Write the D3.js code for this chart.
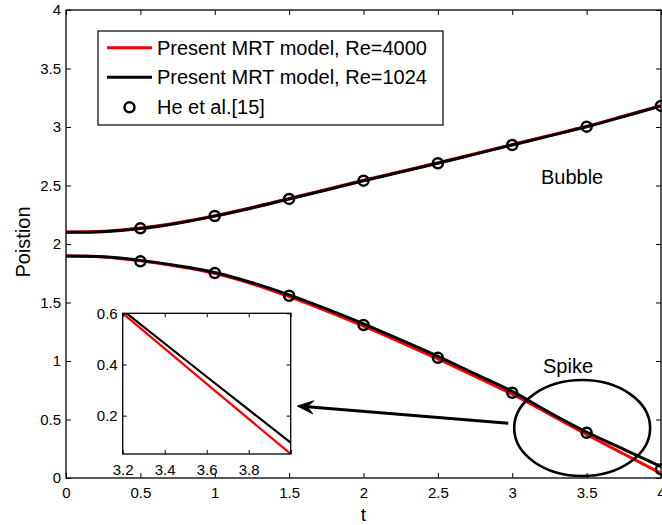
<!DOCTYPE html>
<html>
<head>
<meta charset="utf-8">
<script src="https://cdn.jsdelivr.net/npm/d3@7"></script>
<style>
  html, body { margin: 0; padding: 0; background: #fff; }
  svg { display: block; font-family: "Liberation Sans", Arial, sans-serif; }
</style>
</head>
<body>
<svg id="chart" width="662" height="525"></svg>
<script>
// ---------------- data ----------------
const tGrid = [0, 0.25, 0.5, 0.75, 1, 1.25, 1.5, 1.75, 2, 2.25, 2.5, 2.75, 3, 3.25, 3.5, 3.75, 4];
const bubbleRe4000 = [2.103, 2.108, 2.136, 2.182, 2.242, 2.312, 2.389, 2.466, 2.545, 2.619, 2.694, 2.772, 2.850, 2.928, 3.006, 3.094, 3.183];
const bubbleRe1024 = [2.100, 2.105, 2.132, 2.178, 2.238, 2.308, 2.385, 2.462, 2.541, 2.615, 2.690, 2.768, 2.846, 2.924, 3.002, 3.090, 3.180];
const spikeRe4000  = [1.897, 1.889, 1.857, 1.810, 1.750, 1.660, 1.550, 1.428, 1.298, 1.160, 1.018, 0.868, 0.716, 0.545, 0.372, 0.205, 0.040];
const spikeRe1024  = [1.897, 1.890, 1.860, 1.815, 1.757, 1.670, 1.565, 1.445, 1.318, 1.180, 1.040, 0.890, 0.740, 0.560, 0.393, 0.245, 0.097];

const heT      = [0.5, 1, 1.5, 2, 2.5, 3, 3.5, 4];
const heBubble = [2.134, 2.239, 2.385, 2.541, 2.690, 2.846, 3.003, 3.180];
const heSpike  = [1.852, 1.752, 1.558, 1.308, 1.028, 0.729, 0.387, 0.074];

const insetT      = [3.2, 3.6, 4.0];
const insetRe4000 = [0.600, 0.324, 0.050];
const insetRe1024 = [0.612, 0.352, 0.094];

const xTicks = [0, 0.5, 1, 1.5, 2, 2.5, 3, 3.5, 4];
const yTicks = [0, 0.5, 1, 1.5, 2, 2.5, 3, 3.5, 4];
const insetXTicks = [3.2, 3.4, 3.6, 3.8, 4.0];
const insetXLabels = ["3.2", "3.4", "3.6", "3.8", ""];
const insetYTicks = [0.2, 0.4, 0.6];

const legendLabels = ["Present MRT model, Re=4000", "Present MRT model, Re=1024", "He et al.[15]"];
const xLabel = "t";
const yLabel = "Poistion";
const annotations = [{text: "Bubble", t: 3.193, v: 2.513}, {text: "Spike", t: 3.207, v: 0.90}];
const ellipseSpec = {t: 3.47, v: 0.427, rt: 0.457, rv: 0.41};
const arrowSpec = {t0: 2.973, v0: 0.468, t1: 1.555, v1: 0.615};

// ---------------- layout ----------------
const svg = d3.select("#chart");
const L = 66, R = 661, T = 10, B = 478;
const x = d3.scaleLinear().domain([0, 4]).range([L, R]);
const y = d3.scaleLinear().domain([0, 4]).range([B, T]);
const RED = "#ff0000", BLK = "#000000";
const tickFont = 15;

function styleAxis(g) {
  g.selectAll("path.domain").remove();
  g.selectAll(".tick line").attr("stroke", "#000").attr("stroke-width", 1);
  g.selectAll(".tick text").attr("fill", "#000").style("font-size", tickFont + "px")
    .style("font-family", '"Liberation Sans", Arial, sans-serif');
}
const fmt = d => String(d);

// main axes
svg.append("g").attr("transform", `translate(0,${B})`)
  .call(d3.axisBottom(x).tickValues(xTicks).tickFormat(fmt).tickSize(-5).tickPadding(9)).call(styleAxis);
svg.append("g").attr("transform", `translate(0,${T})`)
  .call(d3.axisTop(x).tickValues(xTicks).tickFormat("").tickSize(-5)).call(styleAxis);
svg.append("g").attr("transform", `translate(${L},0)`)
  .call(d3.axisLeft(y).tickValues(yTicks).tickFormat(fmt).tickSize(-5).tickPadding(5)).call(styleAxis);
svg.append("g").attr("transform", `translate(${R},0)`)
  .call(d3.axisRight(y).tickValues(yTicks).tickFormat("").tickSize(-5)).call(styleAxis);
svg.append("rect").attr("x", L).attr("y", T).attr("width", R - L).attr("height", B - T)
  .attr("fill", "none").attr("stroke", "#000").attr("stroke-width", 1.3);

// axis labels
svg.append("text").attr("x", (L + R) / 2).attr("y", 521).attr("text-anchor", "middle")
  .style("font-size", "19px").text(xLabel);
svg.append("text").attr("transform", `translate(30,242) rotate(-90)`).attr("text-anchor", "middle")
  .style("font-size", "20px").text(yLabel);

// clip for main plot
svg.append("clipPath").attr("id", "mainClip").append("rect")
  .attr("x", L).attr("y", T - 5).attr("width", R - L).attr("height", B - T + 10);

const line = d3.line().x(d => x(d[0])).y(d => y(d[1])).curve(d3.curveCatmullRom);
const plot = svg.append("g").attr("clip-path", "url(#mainClip)");
function series(vals) { return tGrid.map((t, i) => [t, vals[i]]); }

[bubbleRe4000, spikeRe4000].forEach(v => plot.append("path").attr("d", line(series(v)))
  .attr("fill", "none").attr("stroke", RED).attr("stroke-width", 3));
[bubbleRe1024, spikeRe1024].forEach(v => plot.append("path").attr("d", line(series(v)))
  .attr("fill", "none").attr("stroke", BLK).attr("stroke-width", 3));

const pts = heT.map((t, i) => [t, heBubble[i]]).concat(heT.map((t, i) => [t, heSpike[i]]));
svg.append("g").selectAll("circle").data(pts).join("circle")
  .attr("cx", d => x(d[0])).attr("cy", d => y(d[1])).attr("r", 5)
  .attr("fill", "none").attr("stroke", "#000").attr("stroke-width", 2.5);

// annotations
annotations.forEach(a => svg.append("text").attr("x", x(a.t)).attr("y", y(a.v))
  .style("font-size", "20px").text(a.text));

svg.append("ellipse").attr("cx", x(ellipseSpec.t)).attr("cy", y(ellipseSpec.v))
  .attr("rx", x(ellipseSpec.rt) - x(0)).attr("ry", y(0) - y(ellipseSpec.rv))
  .attr("fill", "none").attr("stroke", "#000").attr("stroke-width", 2.6);

// arrow
{
  const x0 = x(arrowSpec.t0), y0 = y(arrowSpec.v0), x1 = x(arrowSpec.t1), y1 = y(arrowSpec.v1);
  const ang = Math.atan2(y1 - y0, x1 - x0);
  const ca = Math.cos(ang), sa = Math.sin(ang);
  const P = (back, side) => [x1 - back * ca - side * sa, y1 - back * sa + side * ca];
  const notch = P(10, 0);
  svg.append("line").attr("x1", x0).attr("y1", y0).attr("x2", notch[0]).attr("y2", notch[1])
    .attr("stroke", "#000").attr("stroke-width", 3);
  const head = [P(0, 0), P(16, 6.5), notch, P(16, -6.5)];
  svg.append("path").attr("d", "M" + head.map(p => p.join(",")).join("L") + "Z")
    .attr("fill", "#000").attr("stroke", "#000").attr("stroke-width", 1).attr("stroke-linejoin", "miter");
}

// ---------------- inset ----------------
const iL = 122.7, iR = 290.7, iT = 313.3, iB = 454;
const xi = d3.scaleLinear().domain([3.2, 4.0]).range([iL, iR]);
const yi = d3.scaleLinear().domain([0.05, 0.6]).range([iB, iT]);
svg.append("rect").attr("x", iL).attr("y", iT).attr("width", iR - iL).attr("height", iB - iT)
  .attr("fill", "#fff").attr("stroke", "none");
svg.append("clipPath").attr("id", "insetClip").append("rect")
  .attr("x", iL).attr("y", iT).attr("width", iR - iL).attr("height", iB - iT);
const iline = d3.line().x(d => xi(d[0])).y(d => yi(d[1]));
const ig = svg.append("g").attr("clip-path", "url(#insetClip)");
ig.append("path").attr("d", iline(insetT.map((t, i) => [t, insetRe4000[i]])))
  .attr("fill", "none").attr("stroke", RED).attr("stroke-width", 2.2);
ig.append("path").attr("d", iline(insetT.map((t, i) => [t, insetRe1024[i]])))
  .attr("fill", "none").attr("stroke", BLK).attr("stroke-width", 2.2);

svg.append("g").attr("transform", `translate(0,${iB})`)
  .call(d3.axisBottom(xi).tickValues(insetXTicks).tickFormat((d, i) => insetXLabels[i]).tickSize(-4).tickPadding(10)).call(styleAxis);
svg.append("g").attr("transform", `translate(0,${iT})`)
  .call(d3.axisTop(xi).tickValues(insetXTicks).tickFormat("").tickSize(-4)).call(styleAxis);
svg.append("g").attr("transform", `translate(${iL},0)`)
  .call(d3.axisLeft(yi).tickValues(insetYTicks).tickFormat(d => d.toFixed(1)).tickSize(-4).tickPadding(5)).call(styleAxis);
svg.append("g").attr("transform", `translate(${iR},0)`)
  .call(d3.axisRight(yi).tickValues(insetYTicks).tickFormat("").tickSize(-4)).call(styleAxis);
svg.append("rect").attr("x", iL).attr("y", iT).attr("width", iR - iL).attr("height", iB - iT)
  .attr("fill", "none").attr("stroke", "#000").attr("stroke-width", 1.3);

// ---------------- legend ----------------
const lg = svg.append("g");
lg.append("rect").attr("x", 98).attr("y", 31).attr("width", 345).attr("height", 94)
  .attr("fill", "#fff").attr("stroke", "#000").attr("stroke-width", 1.2);
const rowY = [47.7, 77.3, 107.3];
const swatch = [RED, BLK, null];
legendLabels.forEach((lab, i) => {
  if (swatch[i]) {
    lg.append("line").attr("x1", 107).attr("x2", 152).attr("y1", rowY[i]).attr("y2", rowY[i])
      .attr("stroke", swatch[i]).attr("stroke-width", 3);
  } else {
    lg.append("circle").attr("cx", 129.5).attr("cy", rowY[i]).attr("r", 5)
      .attr("fill", "none").attr("stroke", "#000").attr("stroke-width", 2.5);
  }
  lg.append("text").attr("x", 157).attr("y", rowY[i]).attr("dy", "0.35em")
    .style("font-size", "20px").text(lab);
});
</script>
</body>
</html>
